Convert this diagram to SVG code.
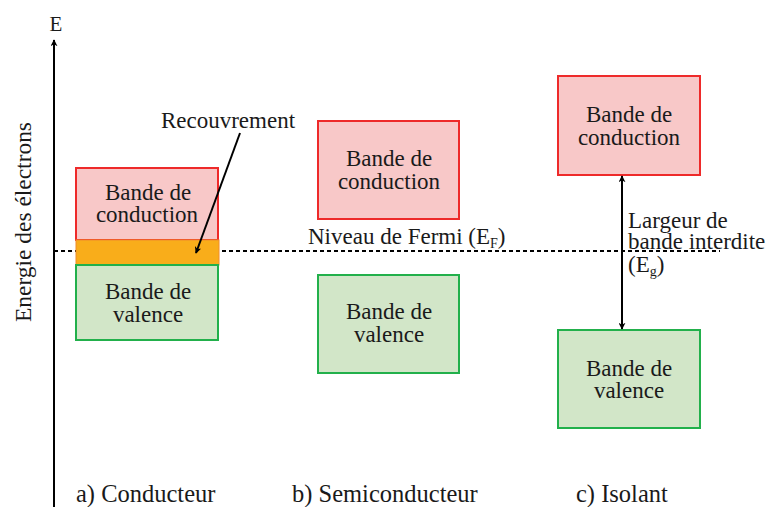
<svg xmlns="http://www.w3.org/2000/svg" width="775" height="507" viewBox="0 0 775 507">
<style>
.t{font-family:'Liberation Serif','DejaVu Serif',serif;font-size:23px;fill:#1a1a1a}
.c{text-anchor:middle}
.cap{font-size:24.5px}
.cb{fill:#f8c8c8;stroke:#ee2a2a;stroke-width:2}
.vb{fill:#d2e6c8;stroke:#22b04b;stroke-width:2}
.ln{stroke:#000;stroke-width:2;fill:none}
</style>
<defs>
<marker id="ah" viewBox="0 0 10 10" refX="9" refY="5" markerWidth="7" markerHeight="7" orient="auto-start-reverse" markerUnits="userSpaceOnUse">
<path d="M0,0 L10,5 L0,10 L3,5 Z" fill="#000"/>
</marker>
</defs>
<g id="axis">
<line x1="54" y1="507" x2="54" y2="40" class="ln" marker-end="url(#ah)"/>
<text x="56" y="31" class="t c" font-size="21" style="font-size:21px">E</text>
<text transform="translate(31,222) rotate(-90)" class="t c" textLength="200" lengthAdjust="spacingAndGlyphs">Energie des électrons</text>
</g>
<g id="fermi">
<line x1="54" y1="251" x2="720" y2="251" stroke="#000" stroke-width="2" stroke-dasharray="4,3"/>
<text x="308" y="244" class="t">Niveau de Fermi (E<tspan font-size="14" dy="4">F</tspan><tspan dy="-4">)</tspan></text>
</g>
<g id="cond-conduction">
<rect x="76" y="168" width="142" height="72" class="cb"/>
<text x="148" y="200" class="t c">Bande de</text>
<text x="147" y="222" class="t c">conduction</text>
</g>
<g id="cond-overlap">
<rect x="76" y="240" width="143" height="25" fill="#f9ad1a" stroke="#f08c2a" stroke-width="1"/>
</g>
<g id="cond-valence">
<rect x="76" y="265" width="142" height="75" class="vb"/>
<text x="148" y="299" class="t c">Bande de</text>
<text x="148" y="322" class="t c">valence</text>
</g>
<g id="recouvrement">
<text x="228" y="128" class="t c">Recouvrement</text>
</g>
<g id="semi-conduction">
<rect x="318" y="121" width="141" height="98" class="cb"/>
<text x="389" y="166" class="t c">Bande de</text>
<text x="389" y="189" class="t c">conduction</text>
</g>
<g id="semi-valence">
<rect x="318" y="275" width="141" height="98" class="vb"/>
<text x="389" y="319" class="t c">Bande de</text>
<text x="389" y="342" class="t c">valence</text>
</g>
<g id="iso-conduction">
<rect x="558" y="76" width="142" height="99" class="cb"/>
<text x="629" y="122" class="t c">Bande de</text>
<text x="629" y="145" class="t c">conduction</text>
</g>
<g id="iso-valence">
<rect x="558" y="330" width="142" height="98" class="vb"/>
<text x="629" y="376" class="t c">Bande de</text>
<text x="629" y="398" class="t c">valence</text>
</g>
<g id="gap-label">
<text x="628" y="228" class="t">Largeur de</text>
<text x="628" y="249" class="t">bande interdite</text>
<text x="628" y="272" class="t">(E<tspan font-size="14" dy="4">g</tspan><tspan dy="-4">)</tspan></text>
</g>
<g id="connectors">
<line x1="240" y1="133" x2="196" y2="253" class="ln" marker-end="url(#ah)"/>
<line x1="622" y1="176" x2="622" y2="329" class="ln" marker-start="url(#ah)" marker-end="url(#ah)"/>
</g>
<g id="captions">
<text x="76" y="502" class="t cap">a) Conducteur</text>
<text x="292" y="502" class="t cap">b) Semiconducteur</text>
<text x="576" y="502" class="t cap">c) Isolant</text>
</g>
</svg>
